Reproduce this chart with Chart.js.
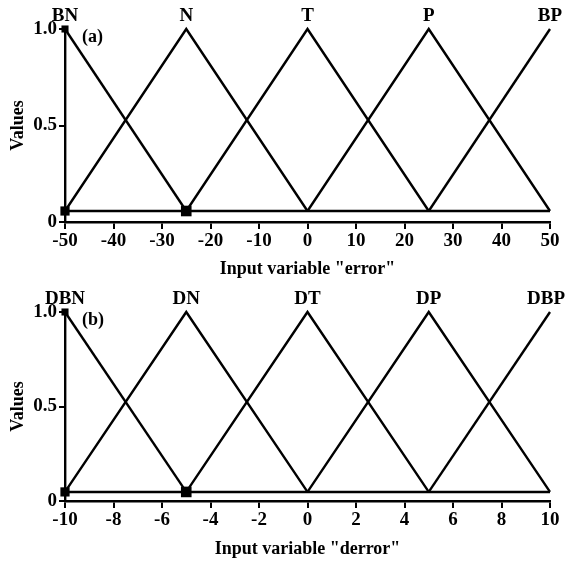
<!DOCTYPE html>
<html>
<head>
<meta charset="utf-8">
<script src="https://cdn.jsdelivr.net/npm/chart.js@4.4.1/dist/chart.umd.min.js"></script>
<style>
body { margin: 0; background: #fff; }
canvas { display: block; }
</style>
</head>
<body>
<canvas id="errorChart" width="566" height="281"></canvas>
<canvas id="derrorChart" width="566" height="280"></canvas>
<script>
// panel (a): input variable "error"
const errorSets = ['BN', 'N', 'T', 'P', 'BP'];
const errorCenters = [-50, -25, 0, 25, 50];
const errorBase = 0.057;
const errorMarkers = [[-50, 1], [-50, 0.057], [-25, 0.057]];

// panel (b): input variable "derror"
const derrorSets = ['DBN', 'DN', 'DT', 'DP', 'DBP'];
const derrorCenters = [-10, -5, 0, 5, 10];
const derrorBase = 0.048;
const derrorMarkers = [[-10, 1], [-10, 0.048], [-5, 0.048]];

const serif = '"Liberation Serif", "Times New Roman", serif';

// triangle membership function for set i, going down to the neighbours' centres
const triangle = (centers, i, base) => {
    let pts = [];
    if (i > 0) pts.push({ x: centers[i - 1], y: base });
    pts.push({ x: centers[i], y: 1 });
    if (i < centers.length - 1) pts.push({ x: centers[i + 1], y: base });
    return pts;
};

const setLabels = {
    id: 'setLabels',
    afterDatasetsDraw(chart, args, opts) {
        const ctx = chart.ctx;
        const xs = chart.scales.x;
        const ys = chart.scales.y;
        const peak = ys.getPixelForValue(1);
        ctx.save();
        ctx.fillStyle = '#000';
        ctx.font = 'bold 19px ' + serif;
        ctx.textAlign = 'center';
        ctx.textBaseline = 'bottom';
        opts.names.forEach((n, i) => {
            let x = xs.getPixelForValue(opts.centers[i]);
            let half = ctx.measureText(n).width / 2;
            // keep the last label inside the canvas
            x = Math.min(x, chart.width - half - 1);
            ctx.fillText(n, x, peak - 3);
        });
        ctx.font = 'bold 18px ' + serif;
        ctx.textAlign = 'left';
        ctx.textBaseline = 'middle';
        ctx.fillText(opts.tag, xs.left + 17, peak + 8);
        ctx.restore();
    },
};

const makeChart = (id, names, centers, base, markers, xStep, xTitle, tag, top, axisHeight) => {
    let datasets = names.map((n, i) => ({
        label: n,
        data: triangle(centers, i, base),
        showLine: true,
        borderColor: '#000',
        borderWidth: 2.4,
        pointRadius: 0,
        clip: false,
    }));
    datasets.push({
        label: 'base',
        data: [{ x: centers[0], y: base }, { x: centers[centers.length - 1], y: base }],
        showLine: true,
        borderColor: '#000',
        borderWidth: 2.4,
        pointRadius: 0,
        clip: false,
    });
    datasets.push({
        label: 'markers',
        data: markers.map((m) => ({ x: m[0], y: m[1] })),
        showLine: false,
        pointStyle: 'rect',
        pointRadius: [5, 6.5, 7.5],
        backgroundColor: '#000',
        borderColor: '#000',
        borderWidth: 0,
        clip: false,
    });

    return new Chart(document.getElementById(id).getContext('2d'), {
        type: 'scatter',
        data: { datasets: datasets },
        options: {
            responsive: false,
            animation: false,
            layout: { padding: { top: top, right: 16, left: 0, bottom: 0 } },
            plugins: {
                legend: { display: false },
                tooltip: { enabled: false },
                setLabels: { names: names, centers: centers, tag: tag },
            },
            scales: {
                x: {
                    type: 'linear',
                    min: centers[0],
                    max: centers[centers.length - 1],
                    ticks: { stepSize: xStep, color: '#000', padding: 1, font: { family: serif, size: 19, weight: 'bold' } },
                    grid: { drawOnChartArea: false, drawTicks: true, tickLength: 7, color: '#000', lineWidth: 2 },
                    border: { color: '#000', width: 2.4 },
                    title: {
                        display: true,
                        text: xTitle,
                        color: '#000',
                        font: { family: serif, size: 18, weight: 'bold' },
                        padding: { top: 0, bottom: 1 },
                    },
                    afterFit: (s) => { s.height = axisHeight; },
                },
                y: {
                    min: 0,
                    max: 1,
                    ticks: {
                        stepSize: 0.5,
                        color: '#000',
                        padding: 2,
                        font: { family: serif, size: 19, weight: 'bold' },
                        callback: (v) => (v === 0 ? '0' : v.toFixed(1)),
                    },
                    grid: { drawOnChartArea: false, drawTicks: true, tickLength: 6, color: '#000', lineWidth: 2 },
                    border: { color: '#000', width: 2.4 },
                    title: {
                        display: true,
                        text: 'Values',
                        color: '#000',
                        font: { family: serif, size: 18, weight: 'bold' },
                        padding: { top: 8, bottom: 0 },
                    },
                    afterFit: (s) => { s.width = 65; },
                },
            },
        },
        plugins: [setLabels],
    });
};

let errorChart = makeChart('errorChart', errorSets, errorCenters, errorBase, errorMarkers, 10, 'Input variable "error"', '(a)', 29, 59);
let derrorChart = makeChart('derrorChart', derrorSets, derrorCenters, derrorBase, derrorMarkers, 2, 'Input variable "derror"', '(b)', 31, 60);
</script>
</body>
</html>
